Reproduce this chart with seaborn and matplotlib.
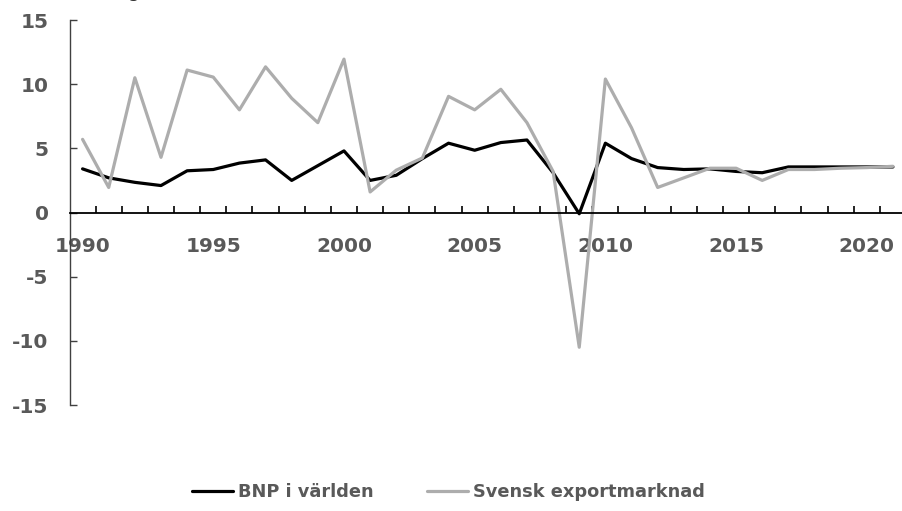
import pandas as pd
import numpy as np
import matplotlib.pyplot as plt
import seaborn as sns
from matplotlib.lines import Line2D

# Data
ar = list(range(1990, 2022))
bnp_varlden = [3.4, 2.7, 2.35, 2.1, 3.25, 3.35, 3.85, 4.1, 2.5, 3.65, 4.8,
               2.5, 2.9, 4.2, 5.4, 4.85, 5.45, 5.65, 3.1, -0.1, 5.4,
               4.2, 3.5, 3.35, 3.4, 3.2, 3.1, 3.55, 3.55, 3.55, 3.55, 3.55]
svensk_export = [5.7, 1.95, 10.5, 4.3, 11.1, 10.55, 8.0, 11.35, 8.9, 7.0, 11.95,
                 1.6, 3.3, 4.25, 9.05, 8.0, 9.6, 7.0, 3.2, -10.5, 10.4,
                 6.6, 1.95, 2.7, 3.45, 3.45, 2.5, 3.35, 3.35, 3.45, 3.5, 3.6]
serier = ['BNP i världen', 'Svensk exportmarknad']
farger = ['#000000', '#ADADAD']
y_ticks = [-15, -10, -5, 0, 5, 10, 15]
x_etiketter = [1990, 1995, 2000, 2005, 2010, 2015, 2020]

df = pd.DataFrame({'år': ar, serier[0]: bnp_varlden, serier[1]: svensk_export})
df_long = df.melt(id_vars='år', var_name='serie', value_name='värde')

sns.set_style('white')
plt.rcParams['font.family'] = ['DejaVu Sans']
textfarg = '#595959'

fig = plt.figure(figsize=(9.02, 5.11), dpi=100)
ax = fig.add_axes([69.5 / 902, 106 / 511, (906 - 69.5) / 902, 385 / 511])

sns.lineplot(data=df_long, x='år', y='värde', hue='serie', hue_order=serier,
             palette=farger, linewidth=2.3, ax=ax, legend=False)

ax.set_xlim(1989.5, 2021.5)
ax.set_ylim(-15, 15)
ax.set_xlabel('')
ax.set_ylabel('')

# axlar
for s in ['top', 'right']:
    ax.spines[s].set_visible(False)
ax.spines['bottom'].set_position(('data', 0))
ax.spines['bottom'].set_color('black')
ax.spines['bottom'].set_linewidth(1.3)
ax.spines['left'].set_color('#404040')
ax.spines['left'].set_linewidth(1.0)

ax.set_yticks(y_ticks)
ax.set_yticklabels([str(v) for v in y_ticks])
ax.tick_params(axis='y', direction='in', left=True, length=5, width=1,
               color='#404040', pad=15, labelsize=14.5, labelcolor=textfarg)

ax.set_xticks(x_etiketter)
ax.set_xticklabels([str(v) for v in x_etiketter])
ax.set_xticks(np.arange(1990.5, 2021, 1), minor=True)
ax.tick_params(axis='x', which='major', bottom=True, length=0, pad=17.5,
               labelsize=14.5, labelcolor=textfarg)
ax.tick_params(axis='x', which='minor', direction='in', length=5, width=1.2,
               color='black', bottom=True)
for lbl in ax.get_xticklabels() + ax.get_yticklabels():
    lbl.set_fontweight('bold')

# legend
handtag = [Line2D([0], [0], color=c, lw=2.3) for c in farger]
leg = fig.legend(handtag, serier, loc='center', bbox_to_anchor=(0.497, 0.037),
                 ncol=2, frameon=False, handlelength=2.3, handletextpad=0.3,
                 columnspacing=3.0, prop={'size': 12.8, 'weight': 'bold'})
for t in leg.get_texts():
    t.set_color(textfarg)

# avskuren rubrik överst
fig.text(148 / 902, 1 + 3 / 511, '(årlig procentuell förändring)', ha='right',
         va='baseline', fontsize=14, color='#333333')

fig.savefig('out.png', dpi=100)
